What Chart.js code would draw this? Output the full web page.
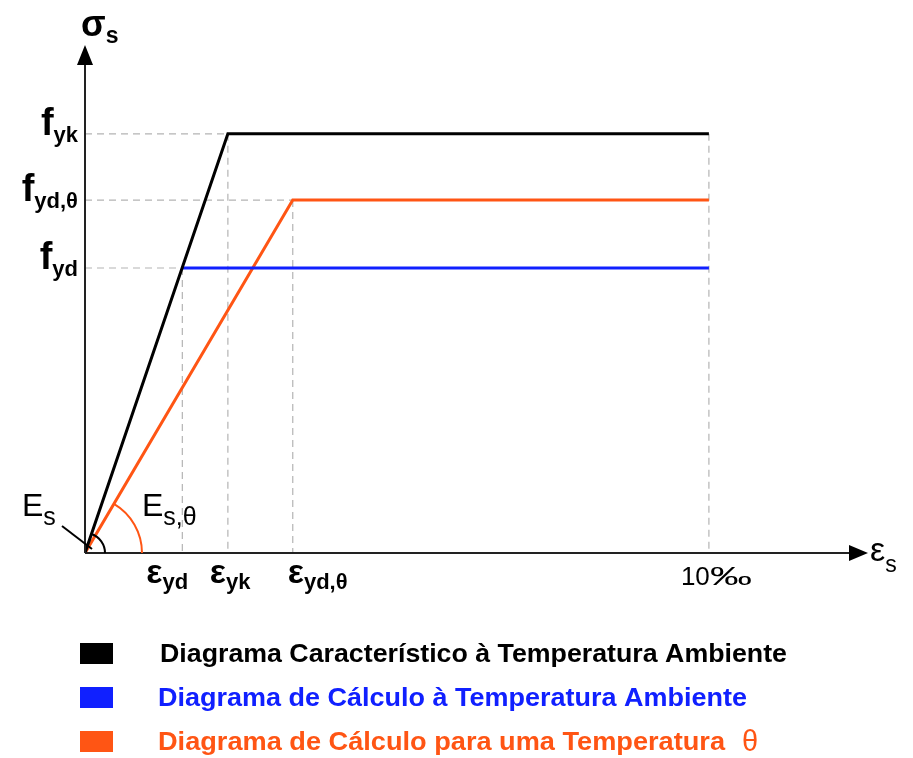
<!DOCTYPE html>
<html>
<head>
<meta charset="utf-8">
<script src="https://cdn.jsdelivr.net/npm/chart.js@4.4.1/dist/chart.umd.min.js"></script>
<style>
html,body{margin:0;padding:0;background:#fff;}
canvas{display:block;}
</style>
</head>
<body>
<canvas id="c" width="913" height="758"></canvas>
<script>
// ---- data (schematic values) ----
// strains in per mille
const strainKeys   = ['eyd', 'eyk', 'eydTheta', 'eLimit'];
const strainValues = [1.56, 2.29, 3.33, 10];
const strainMain   = ['ε', 'ε', 'ε', '10‰'];
const strainSubs   = ['yd', 'yk', 'yd,θ', ''];
// stresses (schematic units)
const stressKeys   = ['fyk', 'fydTheta', 'fyd'];
const stressValues = [500, 421, 340];
const stressMain   = ['f', 'f', 'f'];
const stressSubs   = ['yk', 'yd,θ', 'yd'];
// series: [strain index, stress index]
const seriesNames  = ['Diagrama Característico à Temperatura Ambiente',
                      'Diagrama de Cálculo à Temperatura Ambiente',
                      'Diagrama de Cálculo para uma Temperatura'];
const seriesYield  = [[1, 0], [0, 2], [2, 1]];   // yield point (strain idx, stress idx)
const seriesEnd    = [3, 3, 3];                   // strain idx where plateau ends
const xMaxValue = 12.55;
const yMaxValue = 606;

// ---- styles ----
const seriesColors = ['#000000', '#1020ff', '#ff5514'];
const guideColor = '#b4b4b4';
const FONT = '"Liberation Sans", Arial, sans-serif';

function seriesData(i) {
  const [si, fi] = seriesYield[i];
  return [
    {x: 0, y: 0},
    {x: strainValues[si], y: stressValues[fi]},
    {x: strainValues[seriesEnd[i]], y: stressValues[fi]}
  ];
}

const datasets = [];
// guide (dashed) lines
seriesYield.forEach(([si, fi]) => {
  datasets.push({data: [{x: 0, y: stressValues[fi]}, {x: strainValues[si], y: stressValues[fi]}]});
  datasets.push({data: [{x: strainValues[si], y: stressValues[fi]}, {x: strainValues[si], y: 0}]});
});
datasets.push({data: [{x: strainValues[3], y: stressValues[0]}, {x: strainValues[3], y: 0}]});
datasets.forEach(d => Object.assign(d, {
  borderColor: guideColor, borderWidth: 1.2, borderDash: [7, 5], order: 10,
  showLine: true, pointRadius: 0, fill: false
}));
// main series: black on top, then blue, then orange
const seriesOrder = [0, 1, 2];
seriesNames.forEach((name, i) => {
  const ds = {
    label: name, data: seriesData(i), borderColor: seriesColors[i],
    borderWidth: 3, order: seriesOrder[i], showLine: true, pointRadius: 0,
    fill: false, borderJoinStyle: 'miter', borderCapStyle: 'butt'
  };
  if (i === 1) {
    // elastic branch of the blue diagram coincides with (and is hidden under) the black one
    ds.segment = {borderColor: c => c.p0DataIndex === 0 ? 'rgba(0,0,0,0)' : undefined};
  }
  datasets.push(ds);
});

function drawSub(ctx, main, sub, x, y, mainFont, subFont, subDy, color, align) {
  ctx.fillStyle = color;
  ctx.textAlign = 'left';
  ctx.textBaseline = 'alphabetic';
  ctx.font = mainFont;
  const wm = ctx.measureText(main).width;
  ctx.font = subFont;
  const ws = ctx.measureText(sub).width;
  let x0 = x;
  if (align === 'right') x0 = x - wm - ws;
  ctx.font = mainFont;
  ctx.fillText(main, x0, y);
  ctx.font = subFont;
  ctx.fillText(sub, x0 + wm, y + subDy);
}

function fitText(ctx, text, x, y, font, color, width) {
  ctx.font = font;
  const w = ctx.measureText(text).width;
  ctx.save();
  ctx.translate(x, y);
  ctx.scale(width / w, 1);
  ctx.fillStyle = color;
  ctx.textAlign = 'left';
  ctx.textBaseline = 'alphabetic';
  ctx.fillText(text, 0, 0);
  ctx.restore();
}

const decor = {
  id: 'decor',
  afterDatasetsDraw(chart) {
    const ctx = chart.ctx;
    const xs = chart.scales.x, ys = chart.scales.y;
    const ox = xs.getPixelForValue(0), oy = ys.getPixelForValue(0);
    const xEnd = xs.getPixelForValue(xMaxValue), yTop = ys.getPixelForValue(yMaxValue);
    ctx.save();
    // axes
    ctx.strokeStyle = '#222'; ctx.lineWidth = 2;
    ctx.beginPath();
    ctx.moveTo(ox, oy); ctx.lineTo(ox, yTop + 18);
    ctx.moveTo(ox, oy); ctx.lineTo(xEnd - 16, oy);
    ctx.stroke();
    ctx.fillStyle = '#000';
    ctx.beginPath();
    ctx.moveTo(ox, yTop); ctx.lineTo(ox - 8, yTop + 20); ctx.lineTo(ox + 8, yTop + 20); ctx.closePath(); ctx.fill();
    ctx.beginPath();
    ctx.moveTo(xEnd, oy); ctx.lineTo(xEnd - 19, oy - 8); ctx.lineTo(xEnd - 19, oy + 8); ctx.closePath(); ctx.fill();

    // angle arcs
    const arcR = [20, 0, 57];
    [0, 2].forEach(i => {
      const [si, fi] = seriesYield[i];
      const px = xs.getPixelForValue(strainValues[si]), py = ys.getPixelForValue(stressValues[fi]);
      const ang = Math.atan2(oy - py, px - ox);
      ctx.strokeStyle = seriesColors[i]; ctx.lineWidth = 2;
      ctx.beginPath();
      ctx.arc(ox, oy, arcR[i], -ang, 0);
      ctx.stroke();
    });
    // E_s leader
    ctx.strokeStyle = '#000'; ctx.lineWidth = 2;
    ctx.beginPath(); ctx.moveTo(62, 526); ctx.lineTo(ox + 7, oy - 4); ctx.stroke();

    // axis titles
    drawSub(ctx, 'σ', 's', 81, 36, 'bold 36px ' + FONT, 'bold 23px ' + FONT, 7, '#000', 'left');
    drawSub(ctx, 'ε', 's', xEnd + 2, oy + 8, '34px ' + FONT, '23px ' + FONT, 11, '#000', 'left');
    drawSub(ctx, 'E', 's', 22, 516, '32px ' + FONT, '25px ' + FONT, 9, '#000', 'left');
    drawSub(ctx, 'E', 's,θ', 142, 516, '32px ' + FONT, '25px ' + FONT, 9, '#000', 'left');

    // y tick labels
    stressValues.forEach((v, i) => {
      const py = ys.getPixelForValue(v);
      drawSub(ctx, stressMain[i], stressSubs[i], 78, py + 1, 'bold 38px ' + FONT, 'bold 22px ' + FONT, 7, '#000', 'right');
    });
    // x tick labels
    const xLabelShift = [-36, -18, -5];
    for (let i = 0; i < 3; i++) {
      const px = xs.getPixelForValue(strainValues[i]);
      drawSub(ctx, strainMain[i], strainSubs[i], px + xLabelShift[i], oy + 30, 'bold 34px ' + FONT, 'bold 22px ' + FONT, 6, '#000', 'left');
    }
    {
      const px = xs.getPixelForValue(strainValues[3]);
      ctx.font = '26px ' + FONT; ctx.fillStyle = '#000'; ctx.textAlign = 'left';
      ctx.fillText('10', px - 28, oy + 32);
      fitText(ctx, '‰', px + 1, oy + 32, '26px ' + FONT, '#000', 42);
    }

    // legend
    const legY = [643, 687, 731];
    const legTextX = [160, 158, 158];
    const legTextW = [627, 589, 567];
    seriesNames.forEach((name, i) => {
      ctx.fillStyle = seriesColors[i];
      ctx.fillRect(80, legY[i], 33, 21);
      fitText(ctx, name, legTextX[i], legY[i] + 19, 'bold 26px ' + FONT, seriesColors[i], legTextW[i]);
    });
    ctx.font = '29px ' + FONT; ctx.fillStyle = seriesColors[2];
    ctx.fillText('θ', 742, 751);
    ctx.restore();
  }
};

new Chart(document.getElementById('c'), {
  type: 'scatter',
  data: {datasets},
  options: {
    responsive: false,
    devicePixelRatio: 1,
    animation: false,
    layout: {padding: {left: 85, right: 45, top: 45, bottom: 205}},
    scales: {
      x: {type: 'linear', min: 0, max: xMaxValue, display: false},
      y: {type: 'linear', min: 0, max: yMaxValue, display: false}
    },
    plugins: {legend: {display: false}, tooltip: {enabled: false}},
    elements: {line: {tension: 0}}
  },
  plugins: [decor]
});
</script>
</body>
</html>
